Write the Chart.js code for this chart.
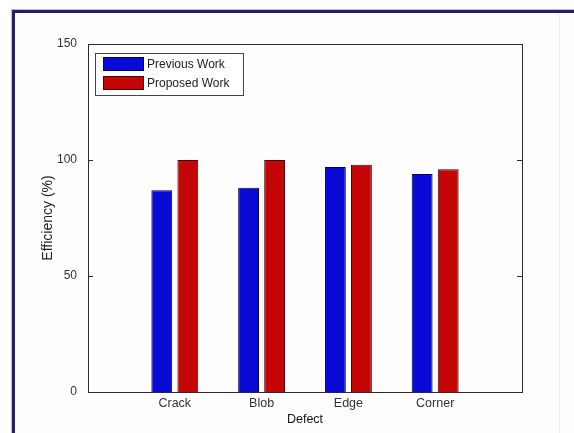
<!DOCTYPE html>
<html>
<head>
<meta charset="utf-8">
<script src="https://cdn.jsdelivr.net/npm/chart.js@4/dist/chart.umd.min.js"></script>
<style>
  html, body { margin: 0; padding: 0; background: #fff; }
  #wrap { position: relative; width: 574px; height: 433px; overflow: hidden; }
  #frame { position: absolute; left: 12px; top: 10px; width: 600px; height: 500px;
           border-top: 3px solid #2b1d5f; border-left: 3px solid #2b1d5f;
           box-shadow: -1px -1px 0 #c7b6e8; background: #fdfdfd; }
  #fade { position: absolute; left: 559px; top: 14px; width: 1px; height: 420px; background: #f1e6f3; }
  canvas { position: absolute; left: 0; top: 0; }
</style>
</head>
<body>
<div id="wrap">
  <div id="frame"></div>
  <div id="fade"></div>
  <canvas id="chart" width="574" height="433"></canvas>
</div>
<script>
const categories = ["Crack", "Blob", "Edge", "Corner"];
const previousWork = [87, 88, 97, 94];
const proposedWork = [100, 100, 98, 96];
const yTicks = [0, 50, 100, 150];

// matlab style x axis: categories sit at 1..4 on a 0..5 range
const labels = ["", ...categories, ""];
const pad = (arr) => [null, ...arr, null];

const fontFamily = "Liberation Sans, Arial, sans-serif";
const axisFont = { family: fontFamily, size: 12 };

const boxPlugin = {
  id: "matlabBox",
  afterDatasetsDraw(chart) {
    const { ctx, chartArea: a, scales } = chart;
    ctx.save();
    ctx.strokeStyle = "#2a2a2a";
    ctx.lineWidth = 1;
    ctx.strokeRect(a.left + 0.5, a.top + 0.5, a.right - a.left, a.bottom - a.top);
    // inward ticks on both sides
    ctx.beginPath();
    yTicks.forEach((v) => {
      const y = Math.round(scales.y.getPixelForValue(v)) + 0.5;
      ctx.moveTo(a.left, y); ctx.lineTo(a.left + 5, y);
      ctx.moveTo(a.right, y); ctx.lineTo(a.right - 5, y);
    });
    ctx.stroke();

    // legend box in the upper left corner of the axes
    const lx = a.left + 7, ly = a.top + 9;
    ctx.fillStyle = "#fff";
    ctx.fillRect(lx, ly, 148, 42);
    ctx.strokeStyle = "#444";
    ctx.strokeRect(lx + 0.5, ly + 0.5, 148, 42);
    ctx.font = `12px ${fontFamily}`;
    ctx.textBaseline = "middle";
    chart.data.datasets.forEach((ds, i) => {
      const sy = ly + 4 + i * 19;
      ctx.fillStyle = ds.backgroundColor;
      ctx.fillRect(lx + 8, sy, 41, 14);
      ctx.strokeStyle = ds.borderColor;
      ctx.strokeRect(lx + 8.5, sy + 0.5, 40, 13);
      ctx.fillStyle = "#222";
      ctx.fillText(ds.label, lx + 52, sy + 7.5);
    });
    ctx.restore();
  },
};

new Chart(document.getElementById("chart"), {
  type: "bar",
  data: {
    labels,
    datasets: [
      { label: "Previous Work", data: pad(previousWork), backgroundColor: "#0a0ad6",
        borderColor: "#00005a", borderWidth: 1 },
      { label: "Proposed Work", data: pad(proposedWork), backgroundColor: "#c40606",
        borderColor: "#4a0000", borderWidth: 1 },
    ],
  },
  options: {
    responsive: false,
    animation: false,
    layout: { padding: { left: 40, top: 44, right: 52, bottom: 0 } },
    datasets: { bar: { categoryPercentage: 0.6, barPercentage: 0.8 } },
    plugins: {
      legend: { display: false },
      tooltip: { enabled: false },
    },
    scales: {
      x: {
        offset: false,
        grid: { display: false, drawTicks: false },
        border: { display: false },
        ticks: { color: "#333", font: { ...axisFont, size: 12.5 }, padding: 4, maxRotation: 0, autoSkip: false },
        title: { display: true, text: "Defect", color: "#111", font: { ...axisFont, size: 12.5 }, padding: { top: 0, bottom: 6 } },
        afterFit: (s) => { s.height = 41; },
      },
      y: {
        min: 0, max: 150,
        afterBuildTicks: (s) => { s.ticks = yTicks.map((v) => ({ value: v })); },
        grid: { display: false, drawTicks: false },
        border: { display: false },
        ticks: { color: "#333", font: axisFont, padding: 11 },
        title: { display: true, text: "Efficiency (%)", color: "#222", font: { ...axisFont, size: 14 }, padding: { top: 0, bottom: 0 } },
        afterFit: (s) => { s.width = 48; },
      },
    },
  },
  plugins: [boxPlugin],
});
</script>
</body>
</html>
